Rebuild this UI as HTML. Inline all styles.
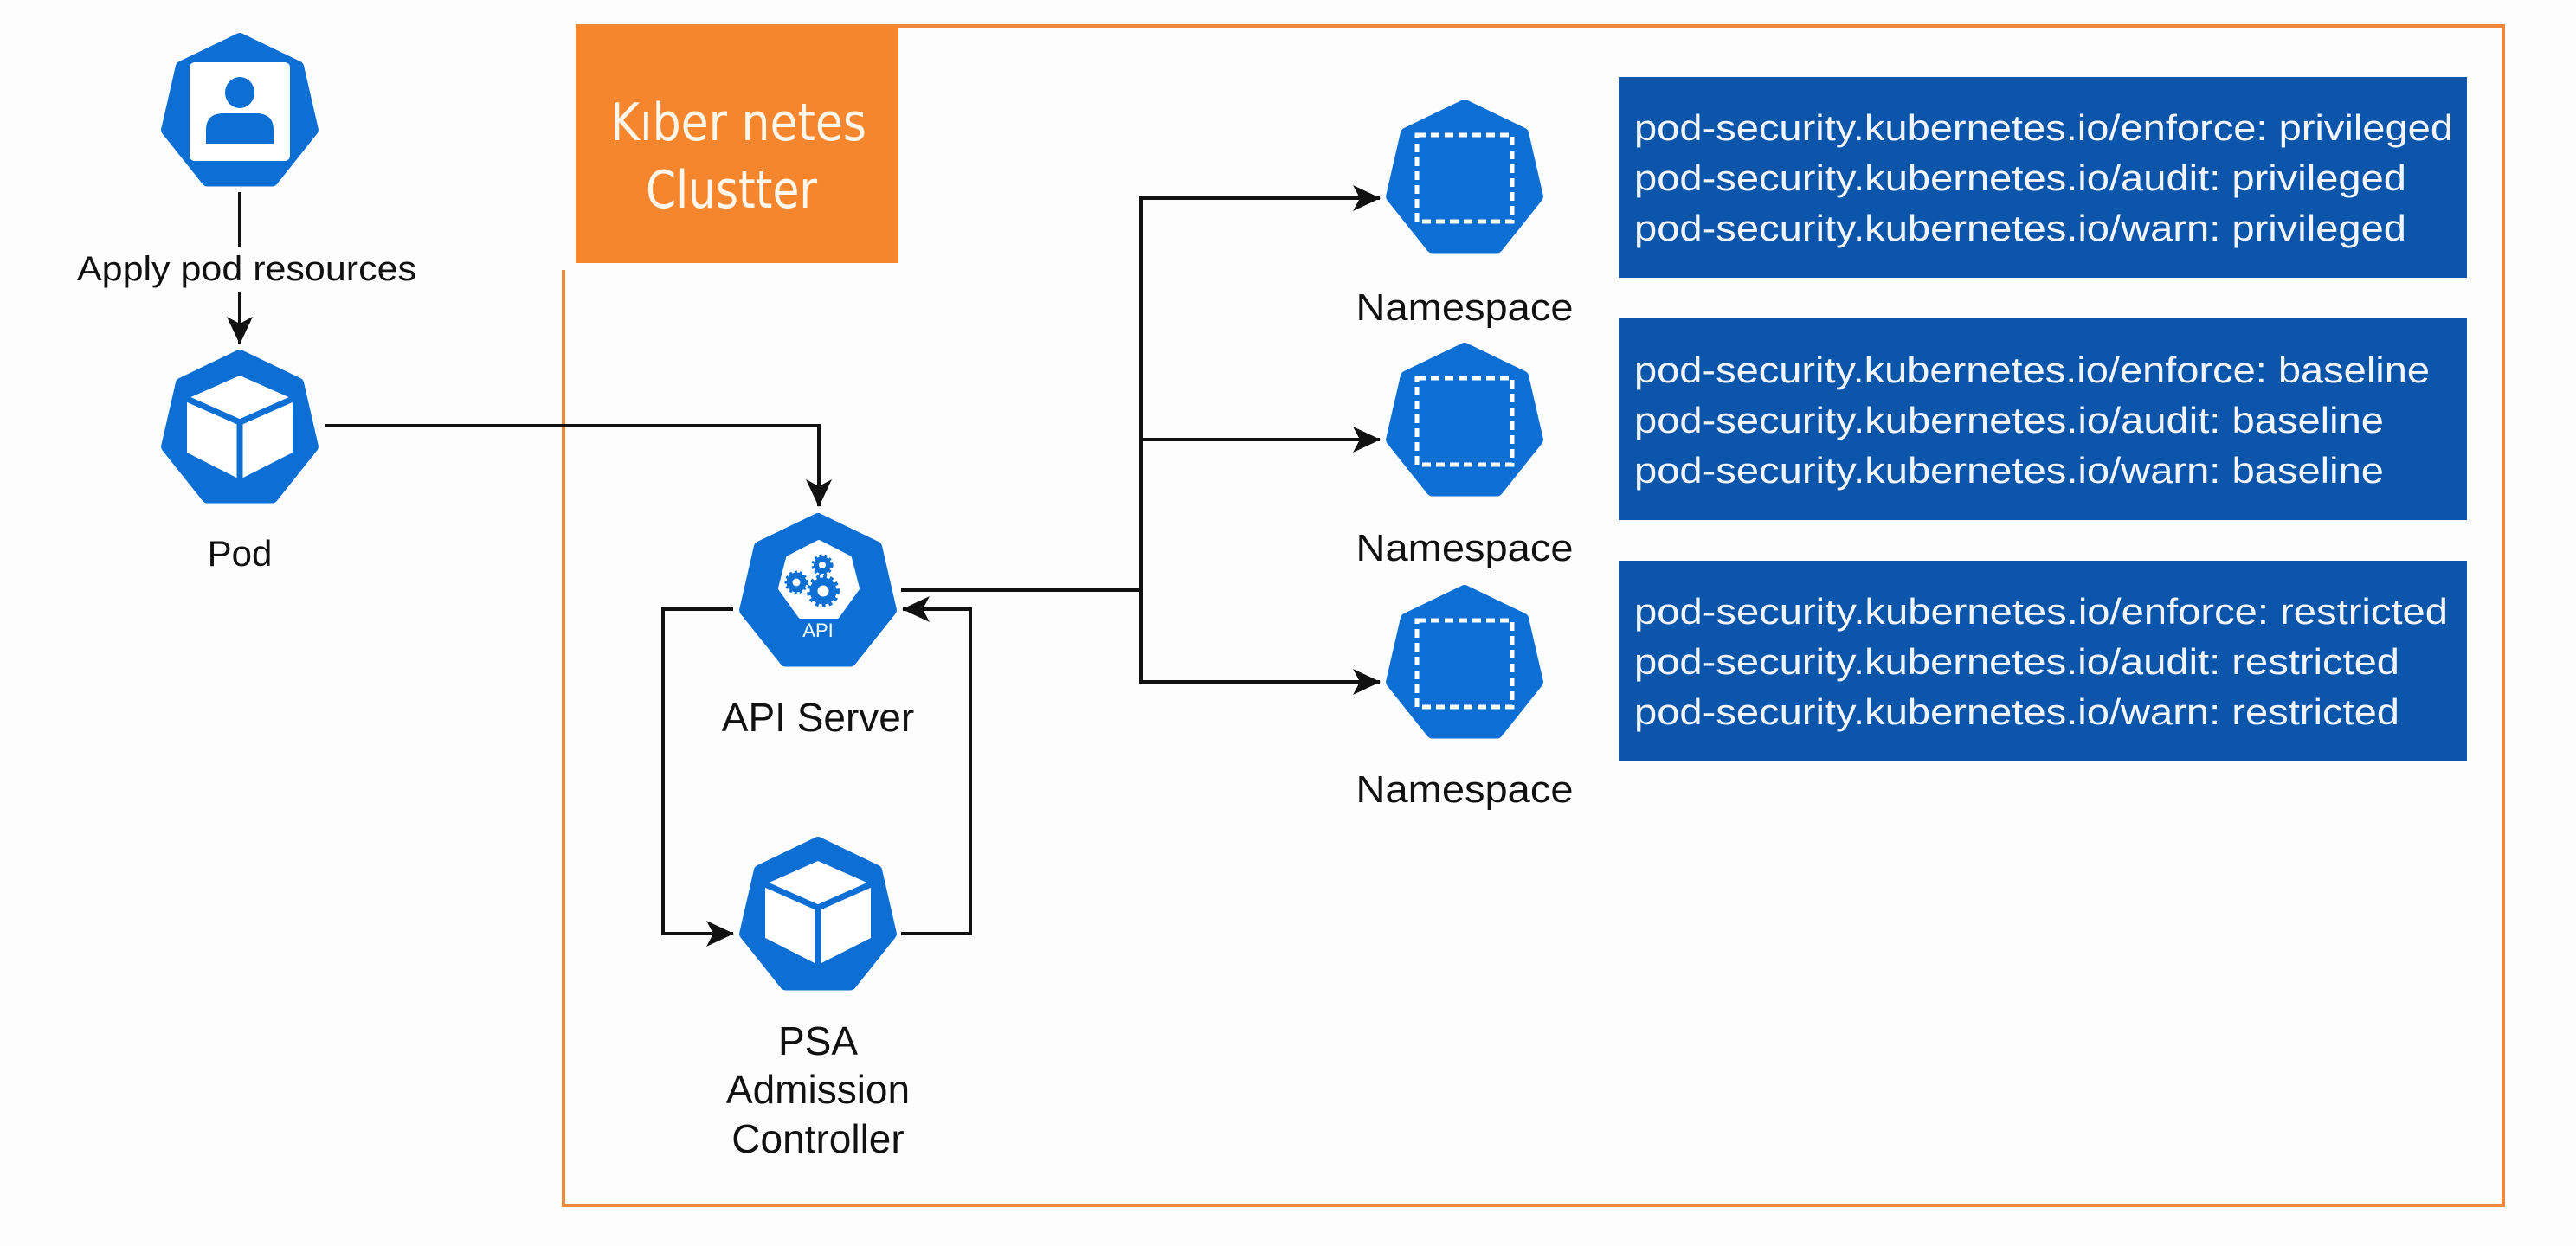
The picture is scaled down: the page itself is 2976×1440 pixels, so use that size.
<!DOCTYPE html>
<html><head><meta charset="utf-8"><style>
html,body{margin:0;padding:0;background:#fdfdfd;}
svg{display:block;}
text{font-family:"Liberation Sans",sans-serif;}
</style></head><body>
<svg width="2976" height="1440" viewBox="0 0 2976 1440" xmlns="http://www.w3.org/2000/svg">
<defs>
<polygon id="hep" points="0,-86 67.2,-53.6 83.9,19.1 37.4,77.5 -37.4,77.5 -83.9,19.1 -67.2,-53.6" fill="#0d6fd3" stroke="#0d6fd3" stroke-width="14" stroke-linejoin="round"/>
<g id="cube">
<polygon points="0,-63 61,-36 61,26 0,57 -61,26 -61,-36" fill="#fff"/>
<polyline points="-61,-36 0,-9 61,-36" fill="none" stroke="#0d6fd3" stroke-width="7"/>
<line x1="0" y1="-9" x2="0" y2="60" stroke="#0d6fd3" stroke-width="7"/>
</g>
<g id="ns">
<use href="#hep"/>
<rect x="-55" y="-52" width="110" height="100" fill="none" stroke="#fff" stroke-width="5" stroke-dasharray="10,6"/>
</g>
<marker id="ar2" viewBox="0 0 32 30" refX="31" refY="15" markerWidth="32" markerHeight="30" markerUnits="userSpaceOnUse" orient="auto">
<path d="M0,0 L32,15 L0,30 L8,15 Z" fill="#111"/>
</marker>
</defs>

<!-- cluster border -->
<polyline points="651,312 651,1393 2892,1393 2892,30 665,30" fill="none" stroke="#f0873a" stroke-width="4"/>
<rect x="665" y="30" width="373" height="274" fill="#f5862e"/>
<text x="853" y="162" font-size="60" fill="#fff6ec" text-anchor="middle" style="font-family:'DejaVu Sans','Liberation Sans',sans-serif" textLength="296" lengthAdjust="spacingAndGlyphs">Kıber netes</text>
<text x="845" y="240" font-size="60" fill="#fff6ec" text-anchor="middle" style="font-family:'DejaVu Sans','Liberation Sans',sans-serif" textLength="198" lengthAdjust="spacingAndGlyphs">Clustter</text>

<!-- user icon -->
<use href="#hep" x="277" y="131"/>
<rect x="219" y="72" width="116" height="114" rx="6" fill="#fff"/>
<ellipse cx="277" cy="107" rx="17" ry="18" fill="#0d6fd3"/>
<path d="M238,166 L238,150 Q238,131 258,131 L296,131 Q316,131 316,150 L316,166 Z" fill="#0d6fd3"/>

<!-- user -> pod -->
<line x1="277" y1="222" x2="277" y2="285" stroke="#111" stroke-width="4"/>
<line x1="277" y1="337" x2="277" y2="397" stroke="#111" stroke-width="4" marker-end="url(#ar2)"/>
<text x="285" y="324" font-size="40" fill="#111" text-anchor="middle" textLength="392" lengthAdjust="spacingAndGlyphs">Apply pod resources</text>

<!-- pod -->
<use href="#hep" x="277" y="497"/>
<use href="#cube" x="277" y="497"/>
<text x="277" y="654" font-size="42" fill="#111" text-anchor="middle">Pod</text>

<!-- pod -> api -->
<polyline points="375,492 946,492 946,585" fill="none" stroke="#111" stroke-width="4" marker-end="url(#ar2)"/>

<!-- API -->
<use href="#hep" x="945" y="686"/>
<polygon points="946,627 981,645 990,680 967,712 925,712 902,680 911,645" fill="#fff" stroke="#fff" stroke-width="6" stroke-linejoin="round"/>
<g fill="none" stroke="#0d6fd3">
<circle cx="920" cy="673" r="8" stroke-width="7"/>
<circle cx="920" cy="673" r="12" stroke-width="3" stroke-dasharray="3,3"/>
<circle cx="950" cy="653" r="7" stroke-width="6"/>
<circle cx="950" cy="653" r="11" stroke-width="3" stroke-dasharray="3,3"/>
<circle cx="951" cy="683" r="11" stroke-width="9"/>
<circle cx="951" cy="683" r="17" stroke-width="4" stroke-dasharray="4,4"/>
</g>
<text x="945" y="736" font-size="22" fill="#fff" text-anchor="middle">API</text>
<text x="945" y="845" font-size="46" fill="#111" text-anchor="middle">API Server</text>

<!-- PSA -->
<use href="#hep" x="945" y="1060"/>
<use href="#cube" x="945" y="1058"/>
<text x="945" y="1219" font-size="46" fill="#111" text-anchor="middle">PSA</text>
<text x="945" y="1275" font-size="46" fill="#111" text-anchor="middle">Admission</text>
<text x="945" y="1332" font-size="46" fill="#111" text-anchor="middle">Controller</text>

<!-- loop -->
<polyline points="847,704 766,704 766,1079 847,1079" fill="none" stroke="#111" stroke-width="4" marker-end="url(#ar2)"/>
<polyline points="1041,1079 1121,1079 1121,704 1043,704" fill="none" stroke="#111" stroke-width="4" marker-end="url(#ar2)"/>

<!-- api -> namespaces -->
<line x1="1041" y1="682" x2="1318" y2="682" stroke="#111" stroke-width="4"/>
<line x1="1318" y1="229" x2="1318" y2="788" stroke="#111" stroke-width="4"/>
<line x1="1316" y1="229" x2="1594" y2="229" stroke="#111" stroke-width="4" marker-end="url(#ar2)"/>
<line x1="1316" y1="508" x2="1594" y2="508" stroke="#111" stroke-width="4" marker-end="url(#ar2)"/>
<line x1="1316" y1="788" x2="1594" y2="788" stroke="#111" stroke-width="4" marker-end="url(#ar2)"/>

<use href="#ns" x="1692" y="208"/>
<use href="#ns" x="1692" y="489"/>
<use href="#ns" x="1692" y="769"/>
<text x="1692" y="370" font-size="44" fill="#111" text-anchor="middle" textLength="251" lengthAdjust="spacingAndGlyphs">Namespace</text>
<text x="1692" y="648" font-size="44" fill="#111" text-anchor="middle" textLength="251" lengthAdjust="spacingAndGlyphs">Namespace</text>
<text x="1692" y="927" font-size="44" fill="#111" text-anchor="middle" textLength="251" lengthAdjust="spacingAndGlyphs">Namespace</text>

<!-- label boxes -->
<g font-size="42" fill="#f2f6fc">
<rect x="1870" y="89" width="980" height="232" fill="#0b55aa"/>
<text x="1888" y="162" textLength="946" lengthAdjust="spacingAndGlyphs">pod-security.kubernetes.io/enforce: privileged</text>
<text x="1888" y="220" textLength="892" lengthAdjust="spacingAndGlyphs">pod-security.kubernetes.io/audit: privileged</text>
<text x="1888" y="278" textLength="892" lengthAdjust="spacingAndGlyphs">pod-security.kubernetes.io/warn: privileged</text>

<rect x="1870" y="368" width="980" height="233" fill="#0b55aa"/>
<text x="1888" y="442" textLength="919" lengthAdjust="spacingAndGlyphs">pod-security.kubernetes.io/enforce: baseline</text>
<text x="1888" y="500" textLength="866" lengthAdjust="spacingAndGlyphs">pod-security.kubernetes.io/audit: baseline</text>
<text x="1888" y="558" textLength="866" lengthAdjust="spacingAndGlyphs">pod-security.kubernetes.io/warn: baseline</text>

<rect x="1870" y="648" width="980" height="232" fill="#0b55aa"/>
<text x="1888" y="721" textLength="940" lengthAdjust="spacingAndGlyphs">pod-security.kubernetes.io/enforce: restricted</text>
<text x="1888" y="779" textLength="884" lengthAdjust="spacingAndGlyphs">pod-security.kubernetes.io/audit: restricted</text>
<text x="1888" y="837" textLength="884" lengthAdjust="spacingAndGlyphs">pod-security.kubernetes.io/warn: restricted</text>
</g>
</svg>
</body></html>
